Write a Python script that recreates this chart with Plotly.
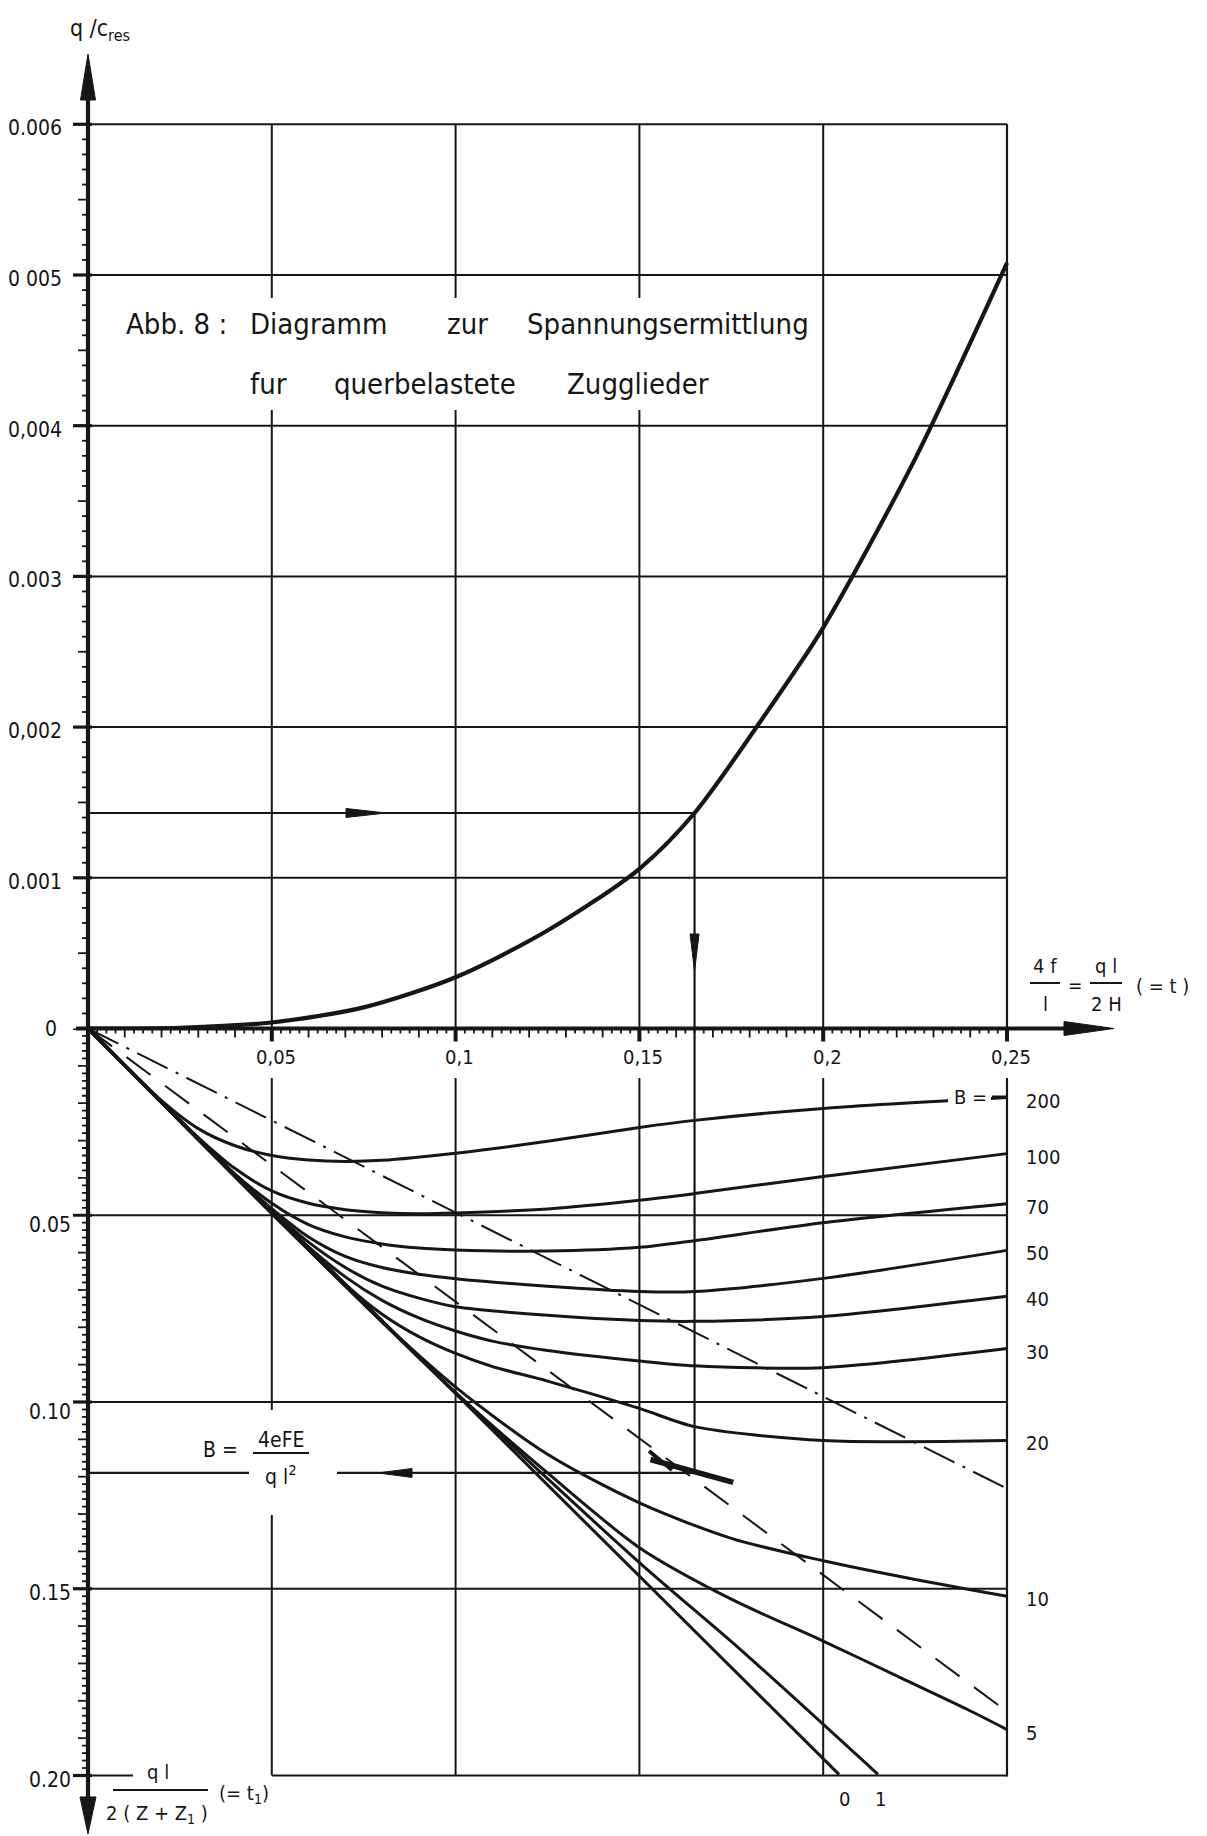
import numpy as np
import plotly.graph_objects as go

# ---------------- data ----------------
# upper diagram: q/c_res as a function of t = 4f/l = ql/2H
t_top = [0.0, 0.025, 0.05, 0.075, 0.10, 0.125, 0.15, 0.165, 0.1875, 0.20, 0.225, 0.25]
q_top = [0.0, 0.000005, 0.00004, 0.00014, 0.00034, 0.00065, 0.00106, 0.00143, 0.00220, 0.00266, 0.00378, 0.00508]

# lower diagram: t1 = ql / 2(Z+Z1) as a function of t, one curve per B
t_B200 = [0, 0.01, 0.02, 0.03, 0.04, 0.05, 0.06, 0.07, 0.08, 0.10, 0.125, 0.15, 0.165, 0.20, 0.25]
v_B200 = [0, 0.0099, 0.0193, 0.0268, 0.0314, 0.0340, 0.0352, 0.0356, 0.0353, 0.0334, 0.0302, 0.0265, 0.0246, 0.0214, 0.0185]
t_B100 = [0, 0.02, 0.03, 0.04, 0.05, 0.06, 0.07, 0.08, 0.09, 0.10, 0.125, 0.15, 0.165, 0.20, 0.25]
v_B100 = [0, 0.0197, 0.0292, 0.0375, 0.0435, 0.0468, 0.0485, 0.0493, 0.0496, 0.0494, 0.0483, 0.0460, 0.0442, 0.0396, 0.0335]
t_B70 = [0, 0.03, 0.04, 0.05, 0.06, 0.07, 0.08, 0.09, 0.10, 0.125, 0.15, 0.165, 0.20, 0.25]
v_B70 = [0, 0.0296, 0.0390, 0.0468, 0.0525, 0.0558, 0.0577, 0.0588, 0.0593, 0.0596, 0.0586, 0.0568, 0.0520, 0.0469]
t_B50 = [0, 0.04, 0.05, 0.06, 0.07, 0.08, 0.09, 0.10, 0.125, 0.15, 0.165, 0.20, 0.25]
v_B50 = [0, 0.0393, 0.0482, 0.0558, 0.0610, 0.0640, 0.0658, 0.0670, 0.0690, 0.0704, 0.0704, 0.0669, 0.0594]
t_B40 = [0, 0.04, 0.05, 0.06, 0.07, 0.08, 0.09, 0.10, 0.125, 0.15, 0.165, 0.20, 0.25]
v_B40 = [0, 0.0395, 0.0488, 0.0572, 0.0640, 0.0690, 0.0722, 0.0745, 0.0768, 0.0782, 0.0784, 0.0771, 0.0717]
t_B30 = [0, 0.05, 0.06, 0.07, 0.08, 0.09, 0.10, 0.11, 0.125, 0.15, 0.165, 0.20, 0.25]
v_B30 = [0, 0.0492, 0.0585, 0.0665, 0.0728, 0.0775, 0.0810, 0.0837, 0.0862, 0.0890, 0.0903, 0.0908, 0.0857]
t_B20 = [0, 0.05, 0.07, 0.08, 0.09, 0.10, 0.11, 0.125, 0.15, 0.165, 0.20, 0.25]
v_B20 = [0, 0.0495, 0.0685, 0.0765, 0.0825, 0.0870, 0.0905, 0.0944, 0.1017, 0.1066, 0.1103, 0.1103]
t_B10 = [0, 0.05, 0.08, 0.10, 0.125, 0.15, 0.175, 0.20, 0.225, 0.25]
v_B10 = [0, 0.0495, 0.0785, 0.0960, 0.1140, 0.1270, 0.1365, 0.1425, 0.1475, 0.1520]
t_B5 = [0, 0.05, 0.10, 0.125, 0.15, 0.175, 0.20, 0.221, 0.239, 0.25]
v_B5 = [0, 0.0495, 0.0975, 0.1190, 0.1390, 0.1528, 0.1640, 0.1738, 0.1822, 0.1877]
t_B1 = [0, 0.05, 0.10, 0.15, 0.1775, 0.2149]
v_B1 = [0, 0.0494, 0.0975, 0.1430, 0.1663, 0.1997]
t_B0 = [0, 0.2043]
v_B0 = [0, 0.1997]
t_dashdot = [0, 0.25]
v_dashdot = [0, 0.1232]
t_dashed = [0, 0.25]
v_dashed = [0, 0.1829]

# worked example (reading lines)
read_t = 0.165
read_q = 0.00143
read_t1 = 0.119
interp_t = [0.153, 0.1755]
interp_t1 = [0.1154, 0.1215]

# tick labels
x_ticks = [0.05, 0.10, 0.15, 0.20, 0.25]
x_tick_text = ["0,05", "0,1", "0,15", "0,2", "0,25"]
q_ticks = [0.001, 0.002, 0.003, 0.004, 0.005, 0.006]
q_tick_text = ["0.001", "0,002", "0.003", "0,004", "0 005", "0.006"]
t1_ticks = [0.05, 0.10, 0.15, 0.20]
t1_tick_text = ["0.05", "0.10", "0.15", "0.20"]
B_names = ["200", "100", "70", "50", "40", "30", "20", "10", "5"]

# ---------------- geometry ----------------
W, H = 1207, 1836
X0, XS = 88.0, 3676.0      # pixel of t=0, pixels per unit t
Y0 = 1028.5                # pixel row of the t axis
QS = 150700.0              # pixels per unit q/c_res
TS = 3735.0                # pixels per unit t1
INK = "#161616"
FONT = "DejaVu Sans Condensed, DejaVu Sans, sans-serif"

def PX(t): return X0 + t * XS
def PQ(q): return Y0 - q * QS
def PB(v): return Y0 + v * TS
def T(px): return (px - X0) / XS
def Q(py): return (Y0 - py) / QS
def TB(py): return (py - Y0) / TS
def pp(px, py): return px / W, 1 - py / H

fig = go.Figure()

def line(xs, ys, axis="y", width=2.0, dash="solid", shape="linear"):
    fig.add_trace(go.Scatter(x=xs, y=ys, yaxis=axis, mode="lines",
                             line=dict(color=INK, width=width, dash=dash, shape=shape, smoothing=0.8),
                             hoverinfo="skip", showlegend=False))

def segs(pairs):
    xs, ys = [], []
    for (a, b), (c, d) in pairs:
        xs += [a, c, None]
        ys += [b, d, None]
    return xs, ys

# ---- grid, upper part ----
xs, ys = segs([((0, q), (0.25, q)) for q in q_ticks])
line(xs, ys, "y", 2.0)
xs, ys = segs([((t, 0), (t, 0.006)) for t in x_ticks])
line(xs, ys, "y", 2.0)

# ---- grid, lower part ----
xs, ys = segs([((0, v), (0.25, v)) for v in t1_ticks[:-1]] +
              [((0, 0.2), (T(133), 0.2)), ((0.05, 0.2), (0.25, 0.2))])
line(xs, ys, "y2", 2.0)
xs, ys = segs([((t, TB(1078)), (t, 0.2)) for t in x_ticks])
line(xs, ys, "y2", 2.0)

# ---- tick marks ----
xs, ys = segs([((T(88 - (10 if k % 5 == 0 else 6)), k * 0.0001), (0, k * 0.0001))
               for k in range(1, 60) if k % 10])
line(xs, ys, "y", 1.8)
xs, ys = segs([((T(73), q), (T(92), q)) for q in q_ticks])
line(xs, ys, "y", 3.2)
xs, ys = segs([((T(88 - (10 if k % 5 == 0 else 6)), k * 0.002), (0, k * 0.002))
               for k in range(1, 100) if k % 25])
line(xs, ys, "y2", 1.8)
xs, ys = segs([((T(73), v), (T(92), v)) for v in t1_ticks + [0.0]])
line(xs, ys, "y2", 3.2)
xs, ys = segs([((k * 0.0025, 0), (k * 0.0025, TB(Y0 + (9 if k % 4 == 0 else 5))))
               for k in range(1, 101) if k % 20])
line(xs, ys, "y2", 1.8)
xs, ys = segs([((t, TB(Y0 - 2)), (t, TB(Y0 + 13))) for t in x_ticks])
line(xs, ys, "y2", 4.0)

# ---- curves ----
line(t_top, q_top, "y", 4.2, shape="spline")
for tt, vv in [(t_B200, v_B200), (t_B100, v_B100), (t_B70, v_B70), (t_B50, v_B50),
               (t_B40, v_B40), (t_B30, v_B30), (t_B20, v_B20), (t_B10, v_B10),
               (t_B5, v_B5), (t_B1, v_B1)]:
    line(tt, vv, "y2", 3.0, shape="spline")
line(t_B0, v_B0, "y2", 3.0)
line(t_dashdot, v_dashdot, "y2", 2.0, dash="34px,9px,3px,9px")
line(t_dashed, v_dashed, "y2", 2.0, dash="30px,18px")

# ---- worked example ----
line([0, read_t], [read_q, read_q], "y", 2.2)
line([read_t, read_t], [read_q, 0], "y", 2.2)
line([read_t, read_t], [0, read_t1], "y2", 2.2)
line([0, read_t], [read_t1, read_t1], "y2", 2.2)
line(interp_t, interp_t1, "y2", 5.5)

# ---------------- shapes ----------------
shapes = []

def mask(x0, y0, x1, y1):
    a, b = pp(x0, y0)
    c, d = pp(x1, y1)
    shapes.append(dict(type="rect", xref="paper", yref="paper", x0=a, x1=c, y0=d, y1=b,
                       fillcolor="white", line=dict(width=0), layer="above"))

def seg(x0, y0, x1, y1, w=2.0):
    a, b = pp(x0, y0)
    c, d = pp(x1, y1)
    shapes.append(dict(type="line", xref="paper", yref="paper", x0=a, y0=b, x1=c, y1=d,
                       line=dict(color=INK, width=w), layer="above"))

def poly(pts):
    path = "M " + " L ".join("%.6f,%.6f" % pp(x, y) for x, y in pts) + " Z"
    shapes.append(dict(type="path", xref="paper", yref="paper", path=path,
                       fillcolor=INK, line=dict(color=INK, width=1), layer="above"))

# gaps behind the lettering
mask(125, 298, 812, 410)          # title
mask(948, 1086, 991, 1114)        # "B =" at the right
mask(249, 1410, 337, 1515)        # fraction of the B formula

# axes
seg(88, 98, 88, 1800, 4.2)
seg(76, Y0, 1068, Y0, 4.2)
seg(PX(0.25), PQ(0.006), PX(0.25), Y0, 2.2)
seg(PX(0.25), 1080, PX(0.25), PB(0.2) + 1, 2.2)
seg(992, PB(v_B200[-1]) - 1, PX(0.25), PB(v_B200[-1]) - 1, 2.2)

# arrow heads of the axes
poly([(88, 54), (80.5, 100), (95.5, 100)])
poly([(88, 1834), (80, 1797), (96, 1797)])
poly([(1114, Y0), (1064, Y0 - 7), (1064, Y0 + 7)])
# arrow heads of the reading path
yq = PQ(read_q)
poly([(386, yq), (346, yq - 4.5), (346, yq + 4.5)])
xr = PX(read_t)
poly([(xr, 971), (xr - 4.5, 934), (xr + 4.5, 934)])
yb = PB(read_t1)
poly([(378, yb), (412, yb - 4.5), (412, yb + 4.5)])
seg(649, 1451, 672, 1470, 4.0)

# fraction bars
seg(253, 1453, 309, 1453, 2.0)        # 4eFE / ql^2
seg(1030, 983, 1060, 983, 2.0)        # 4f / l
seg(1090, 983, 1122, 983, 2.0)        # ql / 2H
seg(113, 1790, 208, 1790, 2.0)        # ql / 2(Z+Z1)

# ---------------- annotations ----------------
ann = []

def text(s, px, py, size=21, xa="center", ya="middle"):
    x, y = pp(px, py)
    ann.append(dict(text=s, x=x, y=y, xref="paper", yref="paper", xanchor=xa, yanchor=ya,
                    showarrow=False, font=dict(family=FONT, size=size, color=INK)))

# title
TS_ = 29
text("Abb. 8 :", 176, 324, TS_)
text("Diagramm", 318, 324, TS_)
text("zur", 467, 324, TS_)
text("Spannungsermittlung", 668, 324, TS_)
text("fur", 268, 384, TS_)
text("querbelastete", 425, 384, TS_)
text("Zugglieder", 638, 384, TS_)

# axis labels
text("q /c<sub>res</sub>", 100, 30, 23)
text("0", 51, Y0, 21)
for q, s in zip(q_ticks, q_tick_text):
    text(s, 64, PQ(q) + 4, 21, xa="right")
for v, s in zip(t1_ticks, t1_tick_text):
    text(s, 73, PB(v) + (10 if v < 0.12 else 4), 21, xa="right")
for t, s in zip(x_ticks, x_tick_text):
    text(s, PX(t) + 4, 1057, 20)

# t axis title
text("4 f", 1045, 966, 20)
text("l", 1045, 1004, 20)
text("=", 1075, 985, 19)
text("q l", 1106, 966, 20)
text("2 H", 1106, 1004, 20)
text("( = t )", 1162, 986, 20)

# t1 axis title
text("q l", 158, 1772, 20)
text("2 ( Z + Z<sub>1</sub> )", 157, 1814, 20)
text("(= t<sub>1</sub>)", 244, 1794, 20)

# B formula
text("B =", 220, 1450, 21)
text("4eFE", 281, 1440, 21)
text("q l<sup>2</sup>", 281, 1475, 21)

# B labels at the right
text("B =", 970, PB(v_B200[-1]) - 1, 20)
for name, v in zip(B_names, [v_B200[-1], v_B100[-1], v_B70[-1], v_B50[-1], v_B40[-1],
                             v_B30[-1], v_B20[-1], v_B10[-1], v_B5[-1]]):
    text(name, 1024, PB(v) + 3, 20, xa="left")
text("0", 844, 1799, 20)
text("1", 880, 1799, 20)

fig.update_layout(
    width=W, height=H,
    margin=dict(l=0, r=0, t=0, b=0),
    paper_bgcolor="white", plot_bgcolor="rgba(0,0,0,0)",
    xaxis=dict(range=[T(0), T(W)], visible=False, fixedrange=True),
    yaxis=dict(domain=[1 - Y0 / H, 1], range=[0, Q(0)], visible=False, fixedrange=True),
    yaxis2=dict(domain=[0, 1 - Y0 / H], range=[TB(H), 0], visible=False, anchor="x",
                fixedrange=True),
    shapes=shapes, annotations=ann, showlegend=False,
)

fig.write_html("out.html", config={"displayModeBar": False},
               post_script="document.body.style.margin='0px';document.body.style.overflow='hidden';")
